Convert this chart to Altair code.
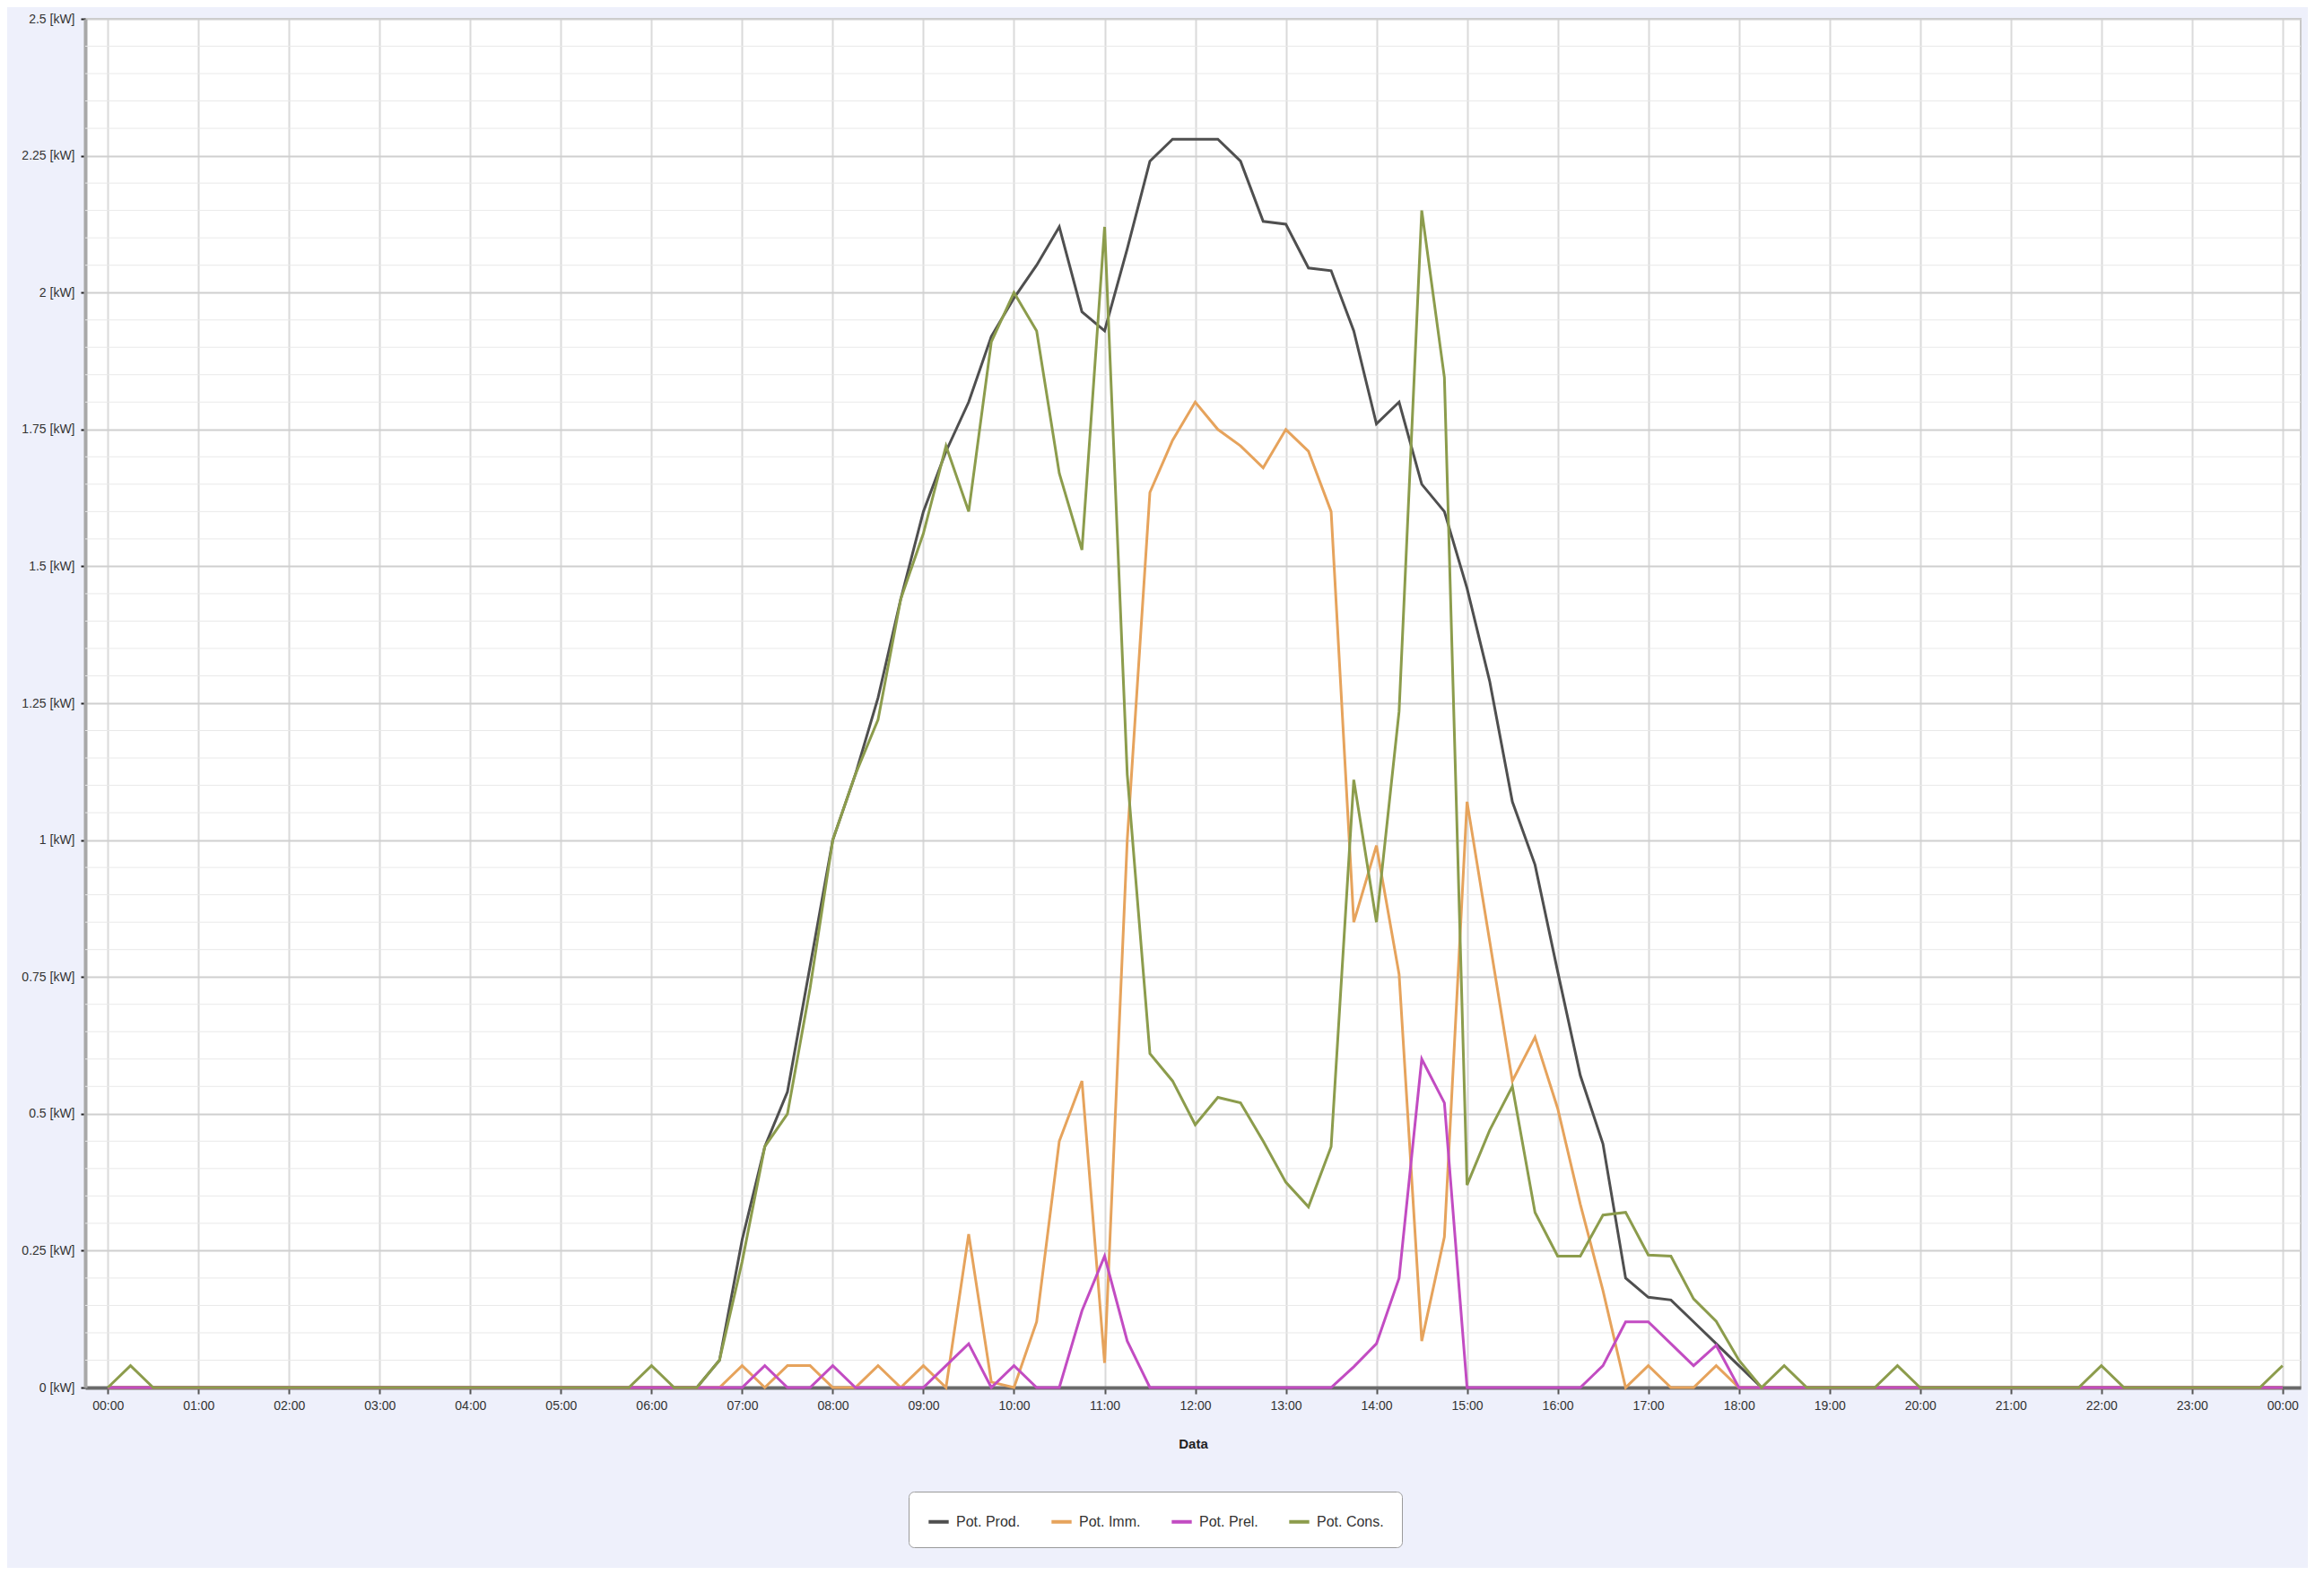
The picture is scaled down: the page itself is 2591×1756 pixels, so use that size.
import altair as alt
import pandas as pd

# ---- data (15-minute samples from 00:00 to 24:00, kW) ----
series_names = ["Pot. Prod.", "Pot. Imm.", "Pot. Prel.", "Pot. Cons."]
series_colors = ["#4f4f4f", "#e6a35c", "#c24cc2", "#8c9c4c"]

prod = [
    0, 0, 0, 0, 0, 0, 0, 0,
    0, 0, 0, 0, 0, 0, 0, 0,
    0, 0, 0, 0, 0, 0, 0, 0,
    0, 0, 0, 0.05, 0.27, 0.44, 0.54, 0.77,
    1.00, 1.12, 1.26, 1.44, 1.60, 1.71, 1.80, 1.92,
    1.99, 2.05, 2.12, 1.965, 1.93, 2.08, 2.24, 2.28,
    2.28, 2.28, 2.24, 2.13, 2.125, 2.045, 2.04, 1.93,
    1.76, 1.80, 1.65, 1.60, 1.46, 1.29, 1.07, 0.955,
    0.76, 0.57, 0.445, 0.20, 0.165, 0.16, 0.12, 0.08,
    0.04, 0, 0, 0, 0, 0, 0, 0,
    0, 0, 0, 0, 0, 0, 0, 0,
    0, 0, 0, 0, 0, 0, 0, 0,
    0,
]

imm = [
    0, 0, 0, 0, 0, 0, 0, 0,
    0, 0, 0, 0, 0, 0, 0, 0,
    0, 0, 0, 0, 0, 0, 0, 0,
    0, 0, 0, 0, 0.04, 0, 0.04, 0.04,
    0, 0, 0.04, 0, 0.04, 0, 0.28, 0.01,
    0, 0.12, 0.45, 0.56, 0.045, 1.0, 1.635, 1.73,
    1.80, 1.75, 1.72, 1.68, 1.75, 1.71, 1.60, 0.85,
    0.99, 0.755, 0.085, 0.275, 1.07, 0.815, 0.56, 0.64,
    0.51, 0.335, 0.177, 0, 0.04, 0, 0, 0.04,
    0, 0, 0, 0, 0, 0, 0, 0,
    0, 0, 0, 0, 0, 0, 0, 0,
    0, 0, 0, 0, 0, 0, 0, 0,
    0,
]

prel = [
    0, 0, 0, 0, 0, 0, 0, 0,
    0, 0, 0, 0, 0, 0, 0, 0,
    0, 0, 0, 0, 0, 0, 0, 0,
    0, 0, 0, 0, 0, 0.04, 0, 0,
    0.04, 0, 0, 0, 0, 0.04, 0.08, 0,
    0.04, 0, 0, 0.14, 0.24, 0.085, 0, 0,
    0, 0, 0, 0, 0, 0, 0, 0.038,
    0.08, 0.20, 0.60, 0.52, 0, 0, 0, 0,
    0, 0, 0.04, 0.12, 0.12, 0.08, 0.04, 0.077,
    0, 0, 0, 0, 0, 0, 0, 0,
    0, 0, 0, 0, 0, 0, 0, 0,
    0, 0, 0, 0, 0, 0, 0, 0,
    0,
]

cons = [
    0, 0.04, 0, 0, 0, 0, 0, 0,
    0, 0, 0, 0, 0, 0, 0, 0,
    0, 0, 0, 0, 0, 0, 0, 0,
    0.04, 0, 0, 0.05, 0.23, 0.44, 0.50, 0.73,
    1.00, 1.12, 1.22, 1.44, 1.56, 1.72, 1.60, 1.91,
    2.00, 1.93, 1.67, 1.53, 2.12, 1.12, 0.61, 0.56,
    0.48, 0.53, 0.52, 0.45, 0.375, 0.33, 0.44, 1.11,
    0.85, 1.235, 2.15, 1.845, 0.37, 0.47, 0.55, 0.32,
    0.24, 0.24, 0.315, 0.32, 0.242, 0.24, 0.162, 0.121,
    0.05, 0, 0.04, 0, 0, 0, 0, 0.04,
    0, 0, 0, 0, 0, 0, 0, 0,
    0.04, 0, 0, 0, 0, 0, 0, 0,
    0.04,
]

x_hour_ticks = list(range(25))
y_major_ticks = [0, 0.25, 0.5, 0.75, 1, 1.25, 1.5, 1.75, 2, 2.25, 2.5]
y_minor_ticks = [round(i * 0.05, 2) for i in range(51) if i % 5 != 0]

# ---- build long table (hour of day, 15-minute steps) ----
hours = [i * 0.25 for i in range(len(prod))]
rows = []
for name, vals in zip(series_names, [prod, imm, prel, cons]):
    for h, v in zip(hours, vals):
        rows.append({"hour": h, "value": v, "series": name})
df = pd.DataFrame(rows)
minor_df = pd.DataFrame({"value": y_minor_ticks})

FONT = "Liberation Sans"

x_scale = alt.Scale(domain=[-0.25, 24.2], nice=False, zero=False)
y_scale = alt.Scale(domain=[0, 2.5], nice=False)

y_axis = alt.Axis(
    title=None,
    values=y_major_ticks,
    labelExpr="datum.value + ' [kW]'",
    labelFont=FONT, labelFontSize=14, labelColor="#333333",
    labelPadding=7, labelOverlap=False,
    tickSize=5, tickWidth=2, tickColor="#222222",
    domainColor="#a8a8a8", domainWidth=4,
    grid=True, gridColor="#cfcfcf", gridWidth=2,
)

minor = alt.Chart(minor_df).mark_rule(color="#e9e9e9", strokeWidth=1).encode(
    y=alt.Y("value:Q", scale=y_scale, axis=y_axis),
)

lines = alt.Chart(df).mark_line(strokeWidth=3).encode(
    x=alt.X(
        "hour:Q",
        scale=x_scale,
        axis=alt.Axis(
            title="Data",
            values=x_hour_ticks,
            labelExpr="(datum.value % 24 < 10 ? '0' : '') + (datum.value % 24) + ':00'",
            labelFont=FONT, labelFontSize=14, labelColor="#333333",
            labelPadding=6, tickSize=7, tickColor="#555555", tickWidth=2,
            titleFont=FONT, titleFontSize=15, titleFontWeight="bold",
            titleColor="#222222", titlePadding=28,
            domainColor="#6a6a6a", domainWidth=4,
            grid=True, gridColor="#dadada", gridWidth=2,
            labelOverlap=False,
        ),
    ),
    y=alt.Y("value:Q", scale=y_scale, axis=y_axis),
    color=alt.Color(
        "series:N",
        scale=alt.Scale(domain=series_names, range=series_colors),
        legend=alt.Legend(
            title=None,
            orient="none",
            legendX=918,
            legendY=1642,
            direction="horizontal",
            symbolType="stroke",
            symbolStrokeWidth=4,
            symbolSize=500,
            labelFont=FONT,
            labelFontSize=16,
            labelColor="#333333",
            labelOffset=6,
            columnPadding=26,
            padding=20,
            fillColor="#ffffff",
            strokeColor="#9a9a9a",
            cornerRadius=6,
        ),
    ),
)

chart = alt.layer(minor, lines).properties(
    width=2470,
    height=1526,
    padding={"left": 87, "top": 13, "right": 8, "bottom": 201},
    background="#eef0fb",
).configure(
    autosize=alt.AutoSizeParams(type="none"),
).configure_view(
    fill="#ffffff",
    stroke="#c8c8c8",
    strokeWidth=2,
)

chart.save("out.html", embed_options={"renderer": "svg", "actions": False})
